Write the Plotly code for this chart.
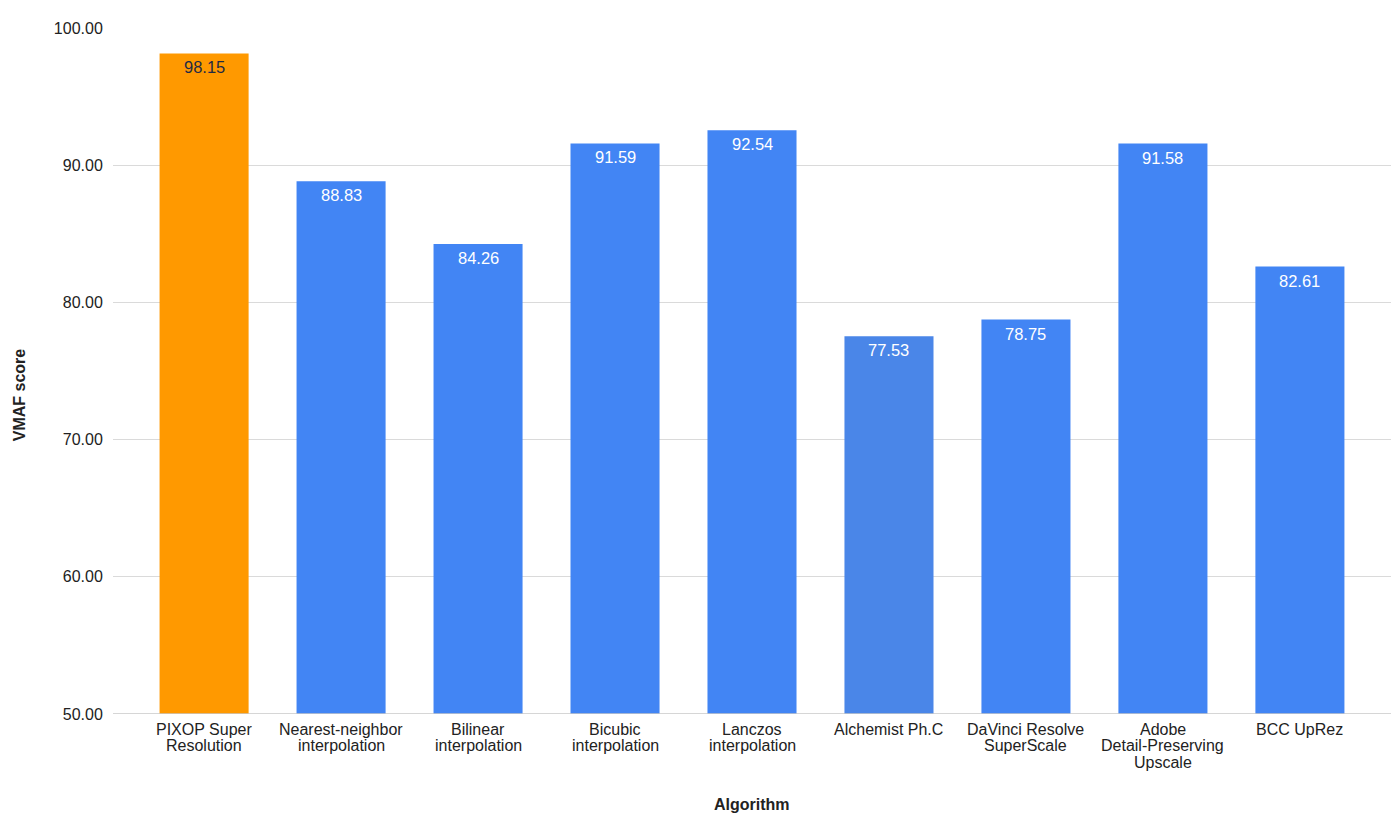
import plotly.graph_objects as go

categories = [
    "PIXOP Super<br>Resolution",
    "Nearest-neighbor<br>interpolation",
    "Bilinear<br>interpolation",
    "Bicubic<br>interpolation",
    "Lanczos<br>interpolation",
    "Alchemist Ph.C",
    "DaVinci Resolve<br>SuperScale",
    "Adobe<br>Detail-Preserving<br>Upscale",
    "BCC UpRez",
]
scores = [98.15, 88.83, 84.26, 91.59, 92.54, 77.53, 78.75, 91.58, 82.61]
bar_colors = ["#ff9900", "#4285f4", "#4285f4", "#4285f4", "#4285f4",
              "#4a86e8", "#4285f4", "#4285f4", "#4285f4"]
label_colors = ["#1f2a44"] + ["#ffffff"] * 8
y_ticks = [50, 60, 70, 80, 90, 100]

FONT = "Liberation Sans, Arial, sans-serif"
PLOT_H = 686.0

xs = list(range(len(categories)))

fig = go.Figure(go.Bar(
    x=xs,
    y=scores,
    width=0.65,
    marker=dict(color=bar_colors, line=dict(width=0)),
    hoverinfo="skip",
))

fig.update_layout(
    width=1400, height=823,
    margin=dict(l=105, r=17, t=20, b=117),
    paper_bgcolor="white", plot_bgcolor="white",
    showlegend=False,
    font=dict(family=FONT, size=16, color="#222222"),
)
fig.update_xaxes(
    range=[-0.665, 8.665],
    tickvals=xs,
    showticklabels=False,
    showgrid=False, zeroline=False, showline=False,
)
fig.update_yaxes(
    range=[50, 100],
    tickvals=y_ticks,
    tickformat=".2f",
    tickfont=dict(family=FONT, size=16, color="#222222"),
    showgrid=True, gridcolor="#dadada", gridwidth=1,
    zeroline=False, showline=False,
    ticks="outside", ticklen=6, tickcolor="white",
)
fig.add_shape(type="line", xref="paper", yref="y", x0=0, x1=1, y0=50, y1=50,
              line=dict(color="#c8c8c8", width=1.5), layer="above")

# value labels inside bar tops
for x, v, c in zip(xs, scores, label_colors):
    fig.add_annotation(x=x, y=v, xref="x", yref="y", text=f"{v:.2f}",
                       showarrow=False, yanchor="middle", yshift=-14,
                       font=dict(family=FONT, size=16.5, color=c))

# category labels with tight line spacing
for x, cat in zip(xs, categories):
    for k, line in enumerate(cat.split("<br>")):
        fig.add_annotation(x=x, y=0, xref="x", yref="paper", text=line,
                           showarrow=False, yanchor="middle",
                           yshift=-(15 + 16.8 * k),
                           font=dict(family=FONT, size=16, color="#222222"))

fig.add_annotation(text="<b>Algorithm</b>", xref="paper", yref="paper",
                   x=0.5, y=-90 / PLOT_H, yanchor="middle", showarrow=False,
                   font=dict(family=FONT, size=16, color="#222222"))
fig.add_annotation(text="<b>VMAF score</b>", xref="paper", yref="paper",
                   x=-0.0736, y=0.466, xanchor="center", yanchor="middle",
                   textangle=-90, showarrow=False,
                   font=dict(family=FONT, size=16, color="#222222"))

fig.write_html("out.html")
